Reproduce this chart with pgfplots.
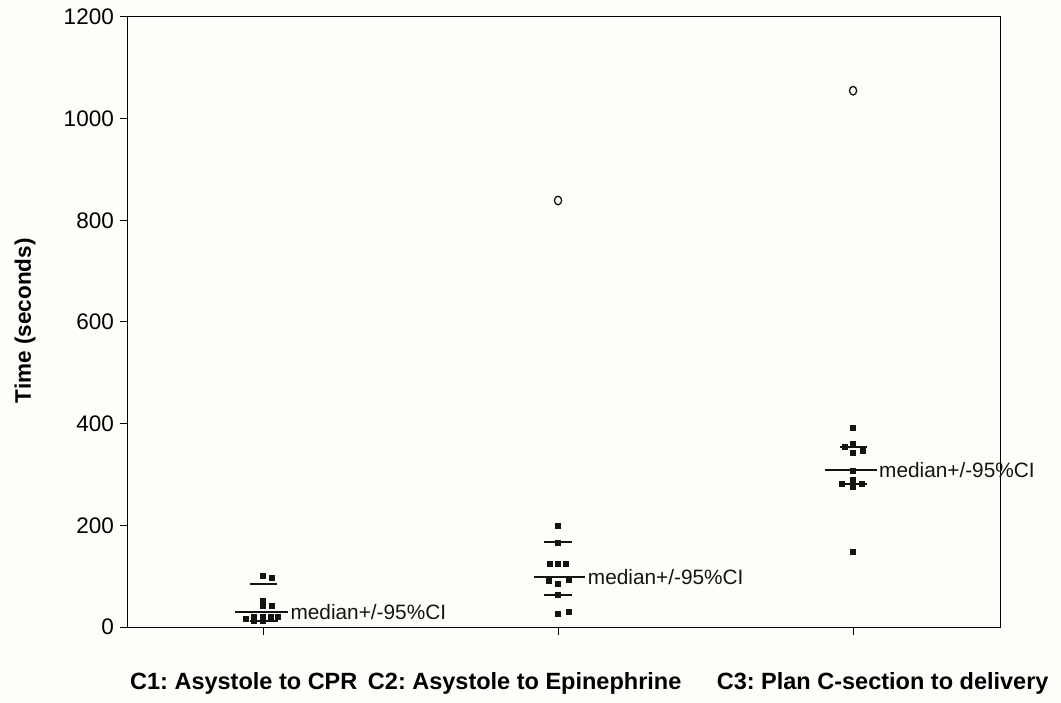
\documentclass[border=0pt]{standalone}
\usepackage{fontspec}
\setmainfont{Liberation Sans}
\usepackage{pgfplots}
\pgfplotsset{compat=1.18}
\usetikzlibrary{backgrounds}
\definecolor{bgcol}{RGB}{254,253,249}
\definecolor{ink}{RGB}{20,20,20}
\frenchspacing
\begin{document}
\begin{tikzpicture}
\begin{axis}[
  name=ax,
  scale only axis,
  width=872pt, height=610pt,
  xmin=0.5424, xmax=3.498,
  ymin=0, ymax=1200,
  xtick={1,2,3}, xticklabels={},
  ytick={0,200,400,600,800,1000,1200},
  tick align=outside,
  major tick length=8pt,
  xtick pos=bottom, ytick pos=left,
  axis line style={line width=1pt, black},
  tick style={line width=1pt, black},
  /pgf/number format/assume math mode=true,
  /pgf/number format/1000 sep={},
  yticklabel style={font=\fontsize{22.5}{27}\selectfont, inner sep=6pt},
  ylabel={Time (seconds)},
  ylabel style={font=\fontsize{22.5}{27}\selectfont\bfseries, at={(axis description cs:-0.118,0.502)}, anchor=center},
  clip=false,
  axis background/.style={fill=bgcol},
]
% C1 points
\addplot[only marks, mark=square*, mark size=2.5pt, color=ink] coordinates {
  (1,100) (1.03,97) (1,52) (1,41) (1.03,41)
  (0.94,17) (0.967,20) (1,20) (1.025,20) (1.05,20) (0.967,12) (1,12)
};
% C2 points
\addplot[only marks, mark=square*, mark size=2.5pt, color=ink] coordinates {
  (2,200) (2,166) (1.973,125) (2,125) (2.027,125)
  (1.97,91) (2.035,94) (2,84.5) (2,63) (2,27) (2.035,30)
};
% C3 points
\addplot[only marks, mark=square*, mark size=2.5pt, color=ink] coordinates {
  (3,392) (2.97,354) (3,361) (3.034,346) (3,342) (3,308)
  (2.962,282) (3,289) (3.03,282) (3,276) (3,148)
};
% outliers
\addplot[only marks, mark=o, mark size=3.6pt, color=ink, line width=1.3pt,
  every mark/.append style={yscale=1.2}] coordinates {(2,839) (3,1055)};
% CI and median lines
\pgfplotsset{cil/.style={ink, line width=2pt, no marks}}
\addplot[cil] coordinates {(0.955,84) (1.047,84)};
\addplot[cil] coordinates {(0.955,12) (1.05,12)};
\addplot[cil] coordinates {(0.905,29) (1.085,29)} node[pos=1, anchor=west, inner sep=1.5pt, font=\fontsize{20.8}{25}\selectfont, text=ink] {median+/-95\%CI};
\addplot[cil] coordinates {(1.954,168) (2.046,168)};
\addplot[cil] coordinates {(1.954,63) (2.048,63)};
\addplot[cil] coordinates {(1.92,97.6) (2.093,97.6)} node[pos=1, anchor=west, inner sep=1.5pt, font=\fontsize{20.8}{25}\selectfont, text=ink] {median+/-95\%CI};
\addplot[cil] coordinates {(2.955,354) (3.046,354)};
\addplot[cil] coordinates {(2.955,282) (3.046,282)};
\addplot[cil] coordinates {(2.905,308) (3.08,308)} node[pos=1, anchor=west, inner sep=1.5pt, font=\fontsize{20.8}{25}\selectfont, text=ink] {median+/-95\%CI};
% category labels
\node[anchor=base west, inner sep=0pt, font=\fontsize{23.5}{28}\selectfont\bfseries] at ([yshift=-62pt]rel axis cs:0.0023,0) {C1: Asystole to CPR};
\node[anchor=base west, inner sep=0pt, font=\fontsize{23.5}{28}\selectfont\bfseries] at ([yshift=-62pt]rel axis cs:0.275,0) {C2: Asystole to Epinephrine};
\node[anchor=base west, inner sep=0pt, font=\fontsize{23.5}{28}\selectfont\bfseries] at ([yshift=-62pt]rel axis cs:0.675,0) {C3: Plan C-section to delivery};
\end{axis}
\begin{scope}[on background layer]
\fill[bgcol] ([xshift=-128pt,yshift=-75pt]ax.south west) rectangle ([xshift=61pt,yshift=17pt]ax.north east);
\end{scope}
\end{tikzpicture}
\end{document}
